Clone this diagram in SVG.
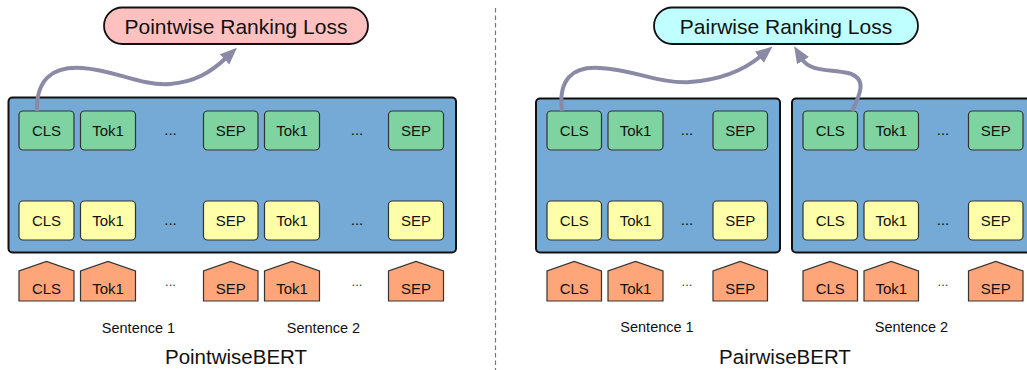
<svg xmlns="http://www.w3.org/2000/svg" width="1027" height="370" viewBox="0 0 1027 370">
<style>
text{font-family:"Liberation Sans",Arial,sans-serif;fill:#111;text-anchor:middle}
.enc{fill:#75a9d6;stroke:#111;stroke-width:2}
.g{fill:#7ed3a0;stroke:#333;stroke-width:1.2}
.y{fill:#ffffaa;stroke:#333;stroke-width:1.2}
.o{fill:#fea67a;stroke:#333;stroke-width:1.2}
.tk{font-size:15px}
.dots{font-size:15px}
.odots{font-size:13px;fill:#333}
.sent{font-size:14.5px}
.title{font-size:20.5px}
.loss{font-size:21px}
.conn{fill:none;stroke:#8a8aa6;stroke-width:4;marker-end:url(#ah)}
</style>
<defs>
<marker id="ah" markerUnits="userSpaceOnUse" markerWidth="20" markerHeight="16" refX="2" refY="7" orient="auto">
<path d="M0,0 L17,7 L0,14 Z" fill="#8a8aa6"/>
</marker>
</defs>
<rect width="1027" height="370" fill="#fff"/>
<line x1="495.5" y1="8" x2="495.5" y2="370" stroke="#777" stroke-width="1.2" stroke-dasharray="4.5,3"/>

<!-- Pointwise -->
<g id="pointwise-loss"><rect x="104" y="7.5" width="264" height="36.5" rx="18.25" fill="#ffc0c0" stroke="#111" stroke-width="1.8"/><text class="loss" x="236" y="34">Pointwise Ranking Loss</text></g>
<g id="pointwise-encoder"><rect class="enc" x="8.5" y="97.5" width="447.5" height="155" rx="4"/></g>

<g id="pw-out-cls"><rect class="g" x="19" y="111" width="55" height="39" rx="4"/><text class="tk" x="46.5" y="136">CLS</text></g>
<g id="pw-out-tok1a"><rect class="g" x="80.5" y="111" width="55" height="39" rx="4"/><text class="tk" x="108" y="136">Tok1</text></g>
<g id="pw-out-dots1"><text class="dots" x="170.5" y="135">...</text></g>
<g id="pw-out-sep1"><rect class="g" x="203.5" y="111" width="54.5" height="39" rx="4"/><text class="tk" x="230.75" y="136">SEP</text></g>
<g id="pw-out-tok1b"><rect class="g" x="264.5" y="111" width="55" height="39" rx="4"/><text class="tk" x="292" y="136">Tok1</text></g>
<g id="pw-out-dots2"><text class="dots" x="357" y="135">...</text></g>
<g id="pw-out-sep2"><rect class="g" x="388.5" y="111" width="55" height="39" rx="4"/><text class="tk" x="416" y="136">SEP</text></g>

<g id="pw-emb-cls"><rect class="y" x="19" y="201" width="55" height="39" rx="4"/><text class="tk" x="46.5" y="226">CLS</text></g>
<g id="pw-emb-tok1a"><rect class="y" x="80.5" y="201" width="55" height="39" rx="4"/><text class="tk" x="108" y="226">Tok1</text></g>
<g id="pw-emb-dots1"><text class="dots" x="170.5" y="225">...</text></g>
<g id="pw-emb-sep1"><rect class="y" x="203.5" y="201" width="54.5" height="39" rx="4"/><text class="tk" x="230.75" y="226">SEP</text></g>
<g id="pw-emb-tok1b"><rect class="y" x="264.5" y="201" width="55" height="39" rx="4"/><text class="tk" x="292" y="226">Tok1</text></g>
<g id="pw-emb-dots2"><text class="dots" x="357" y="225">...</text></g>
<g id="pw-emb-sep2"><rect class="y" x="388.5" y="201" width="55" height="39" rx="4"/><text class="tk" x="416" y="226">SEP</text></g>

<g id="pw-in-cls"><path class="o" d="M19,301 V271 L46.5,261.5 L74,271 V301 Z"/><text class="tk" x="46.5" y="294">CLS</text></g>
<g id="pw-in-tok1a"><path class="o" d="M80.5,301 V271 L108,261.5 L135.5,271 V301 Z"/><text class="tk" x="108" y="294">Tok1</text></g>
<g id="pw-in-dots1"><text class="odots" x="170.5" y="286">...</text></g>
<g id="pw-in-sep1"><path class="o" d="M203.5,301 V271 L230.75,261.5 L258,271 V301 Z"/><text class="tk" x="230.75" y="294">SEP</text></g>
<g id="pw-in-tok1b"><path class="o" d="M264.5,301 V271 L292,261.5 L319.5,271 V301 Z"/><text class="tk" x="292" y="294">Tok1</text></g>
<g id="pw-in-dots2"><text class="odots" x="357" y="286">...</text></g>
<g id="pw-in-sep2"><path class="o" d="M388.5,301 V271 L416,261.5 L443.5,271 V301 Z"/><text class="tk" x="416" y="294">SEP</text></g>

<g id="pw-sent1"><text class="sent" x="138.5" y="333">Sentence 1</text></g>
<g id="pw-sent2"><text class="sent" x="323.5" y="333">Sentence 2</text></g>
<g id="pw-title"><text class="title" x="236" y="364">PointwiseBERT</text></g>

<!-- Pairwise -->
<g id="pairwise-loss"><rect x="654" y="7.5" width="264" height="36.5" rx="18.25" fill="#c0ffff" stroke="#111" stroke-width="1.8"/><text class="loss" x="786" y="34">Pairwise Ranking Loss</text></g>
<g id="pairwise-encoder1"><rect class="enc" x="536" y="98.5" width="244" height="154" rx="4"/></g>
<g id="pairwise-encoder2"><rect class="enc" x="792" y="98.5" width="250" height="154" rx="4"/></g>

<g id="pr1-out-cls"><rect class="g" x="547" y="111" width="54.5" height="39" rx="4"/><text class="tk" x="574.25" y="136">CLS</text></g>
<g id="pr1-out-tok1"><rect class="g" x="608" y="111" width="55" height="39" rx="4"/><text class="tk" x="635.5" y="136">Tok1</text></g>
<g id="pr1-out-dots"><text class="dots" x="687" y="135">...</text></g>
<g id="pr1-out-sep"><rect class="g" x="713" y="111" width="54.5" height="39" rx="4"/><text class="tk" x="740.25" y="136">SEP</text></g>
<g id="pr2-out-cls"><rect class="g" x="803" y="111" width="54.5" height="39" rx="4"/><text class="tk" x="830.25" y="136">CLS</text></g>
<g id="pr2-out-tok1"><rect class="g" x="864" y="111" width="54.5" height="39" rx="4"/><text class="tk" x="891.25" y="136">Tok1</text></g>
<g id="pr2-out-dots"><text class="dots" x="943" y="135">...</text></g>
<g id="pr2-out-sep"><rect class="g" x="968.5" y="111" width="54.5" height="39" rx="4"/><text class="tk" x="995.75" y="136">SEP</text></g>

<g id="pr1-emb-cls"><rect class="y" x="547" y="201" width="54.5" height="39" rx="4"/><text class="tk" x="574.25" y="226">CLS</text></g>
<g id="pr1-emb-tok1"><rect class="y" x="608" y="201" width="55" height="39" rx="4"/><text class="tk" x="635.5" y="226">Tok1</text></g>
<g id="pr1-emb-dots"><text class="dots" x="687" y="225">...</text></g>
<g id="pr1-emb-sep"><rect class="y" x="713" y="201" width="54.5" height="39" rx="4"/><text class="tk" x="740.25" y="226">SEP</text></g>
<g id="pr2-emb-cls"><rect class="y" x="803" y="201" width="54.5" height="39" rx="4"/><text class="tk" x="830.25" y="226">CLS</text></g>
<g id="pr2-emb-tok1"><rect class="y" x="864" y="201" width="54.5" height="39" rx="4"/><text class="tk" x="891.25" y="226">Tok1</text></g>
<g id="pr2-emb-dots"><text class="dots" x="943" y="225">...</text></g>
<g id="pr2-emb-sep"><rect class="y" x="968.5" y="201" width="54.5" height="39" rx="4"/><text class="tk" x="995.75" y="226">SEP</text></g>

<g id="pr1-in-cls"><path class="o" d="M547,301 V271 L574.25,261.5 L601.5,271 V301 Z"/><text class="tk" x="574.25" y="294">CLS</text></g>
<g id="pr1-in-tok1"><path class="o" d="M608,301 V271 L635.5,261.5 L663,271 V301 Z"/><text class="tk" x="635.5" y="294">Tok1</text></g>
<g id="pr1-in-dots"><text class="odots" x="687" y="286">...</text></g>
<g id="pr1-in-sep"><path class="o" d="M713,301 V271 L740.25,261.5 L767.5,271 V301 Z"/><text class="tk" x="740.25" y="294">SEP</text></g>
<g id="pr2-in-cls"><path class="o" d="M803,301 V271 L830.25,261.5 L857.5,271 V301 Z"/><text class="tk" x="830.25" y="294">CLS</text></g>
<g id="pr2-in-tok1"><path class="o" d="M864,301 V271 L891.25,261.5 L918.5,271 V301 Z"/><text class="tk" x="891.25" y="294">Tok1</text></g>
<g id="pr2-in-dots"><text class="odots" x="943" y="286">...</text></g>
<g id="pr2-in-sep"><path class="o" d="M968.5,301 V271 L995.75,261.5 L1023,271 V301 Z"/><text class="tk" x="995.75" y="294">SEP</text></g>

<g id="pr-sent1"><text class="sent" x="657" y="331.5">Sentence 1</text></g>
<g id="pr-sent2"><text class="sent" x="911.5" y="331.5">Sentence 2</text></g>
<g id="pr-title"><text class="title" x="785" y="364">PairwiseBERT</text></g>

<g id="connectors">
<path class="conn" d="M37,111 C36,80 52,66 82,68 C115,70 140,86 170,84 C195,82 211,72 226,58"/>
<path class="conn" d="M562,111 C558,80 572,66 600,68 C635,70 660,84 690,82 C720,80 744,70 761,56"/>
<path class="conn" d="M852,111 C860,95 868,78 848,73 C830,69 810,72 802,59"/>
</g>
</svg>
